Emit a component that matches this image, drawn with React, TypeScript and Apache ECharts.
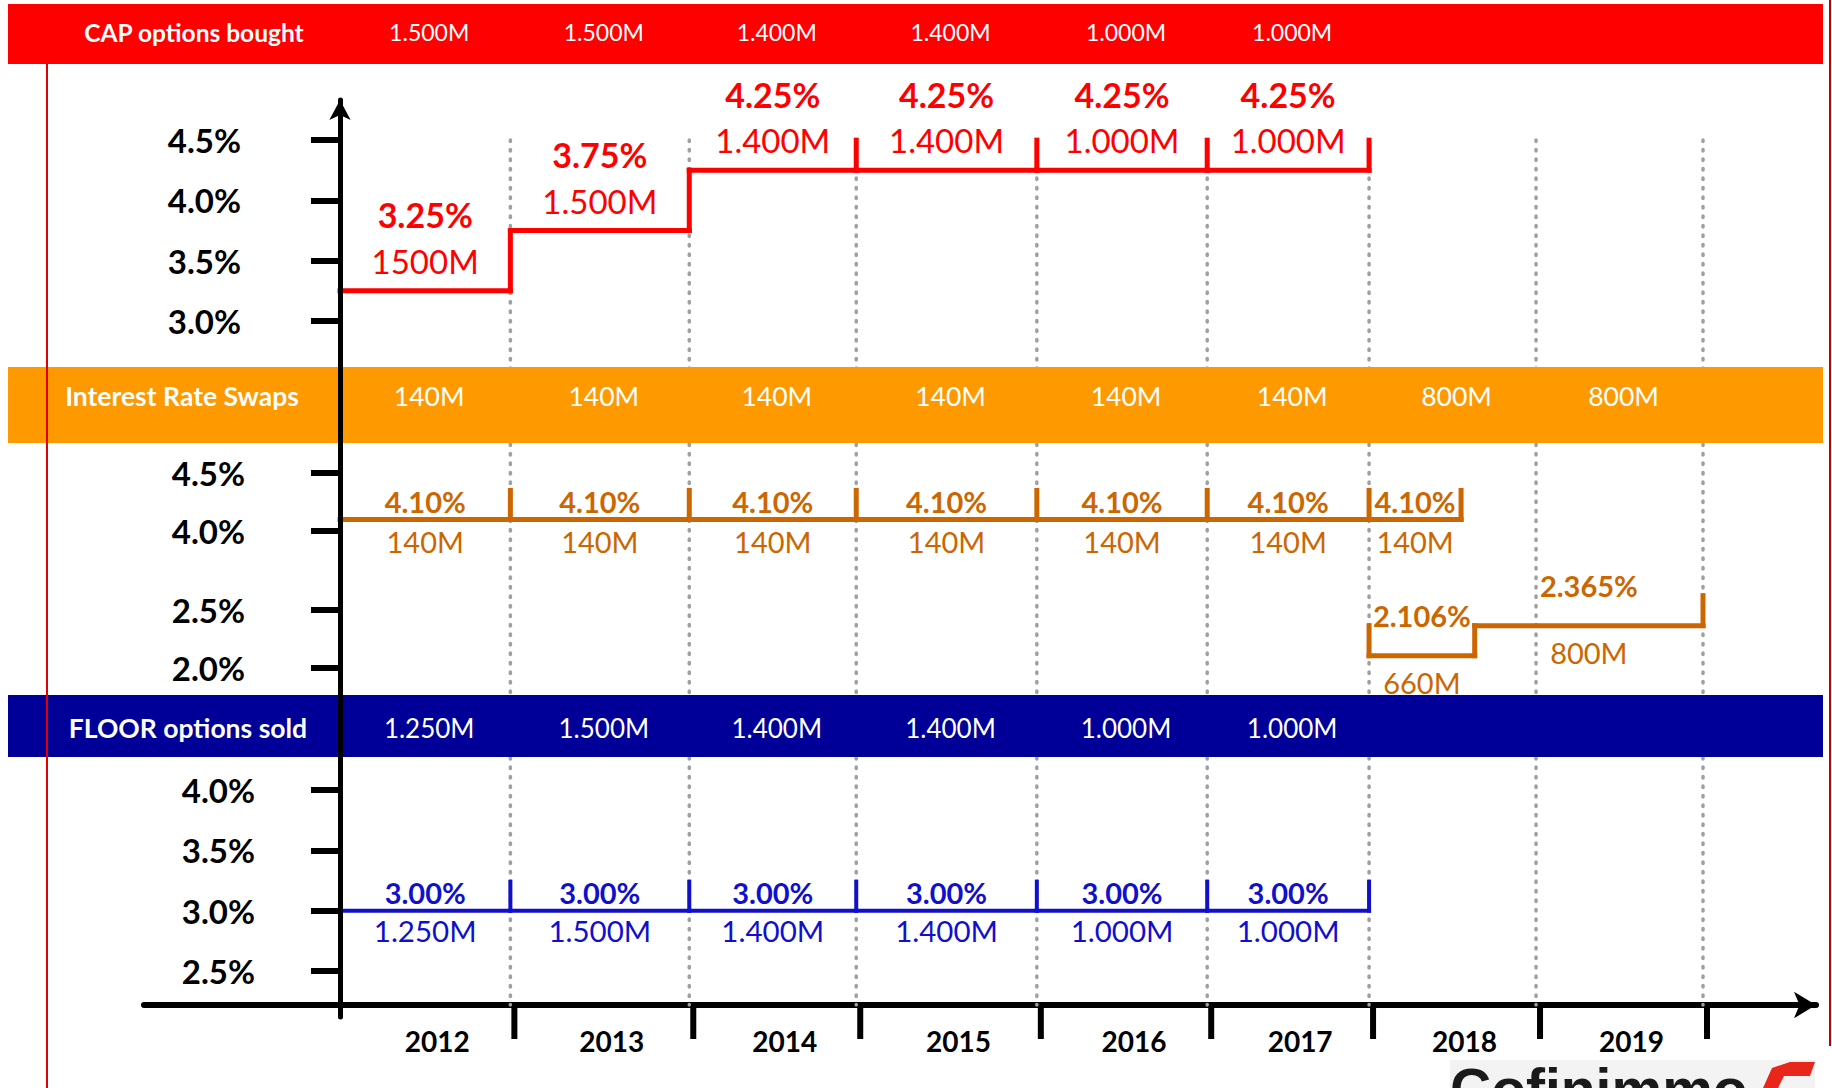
import React, { useEffect, useRef } from 'react';
import * as echarts from 'echarts';

// ---------- data ----------
const YEARS = ['2012', '2013', '2014', '2015', '2016', '2017', '2018', '2019'];
const PERIOD_BOUNDS = [2012, 2013, 2014.05, 2015.03, 2016.09, 2017.09, 2018.04, 2019.02, 2020];

const CAP_BANNER = ['1.500M', '1.500M', '1.400M', '1.400M', '1.000M', '1.000M'];
const CAP_RATES = [3.25, 3.75, 4.25, 4.25, 4.25, 4.25];
const CAP_AMOUNTS = ['1500M', '1.500M', '1.400M', '1.400M', '1.000M', '1.000M'];

const IRS_BANNER = ['140M', '140M', '140M', '140M', '140M', '140M', '800M', '800M'];
const IRS_RATES = [4.1, 4.1, 4.1, 4.1, 4.1, 4.1, 4.1];
const IRS_AMOUNTS = ['140M', '140M', '140M', '140M', '140M', '140M', '140M'];
const IRS_OLD_END = 2018.58;
const IRS_NEW_STARTS = [2018.04, 2018.66];
const IRS_NEW_ENDS = [2018.66, 2020];
const IRS_NEW_RATES = [2.106, 2.365];
const IRS_NEW_AMOUNTS = ['660M', '800M'];

const FLOOR_BANNER = ['1.250M', '1.500M', '1.400M', '1.400M', '1.000M', '1.000M'];
const FLOOR_RATES = [3.0, 3.0, 3.0, 3.0, 3.0, 3.0];
const FLOOR_AMOUNTS = ['1.250M', '1.500M', '1.400M', '1.400M', '1.000M', '1.000M'];

const X_MIN = 2012;
const X_MAX = 2020;

// ---------- styling ----------
const FONT = "Lato, 'Open Sans', 'Liberation Sans', sans-serif";
const RED = '#FF0000';
const ORANGE_BANNER = '#FF9900';
const ORANGE = '#CC6600';
const NAVY = '#000099';
const BLUE = '#1010CC';

type Period = { start: number; end: number; rate: number; amount: string };

const capPeriods: Period[] = CAP_RATES.map((r, i) => ({
  start: PERIOD_BOUNDS[i], end: PERIOD_BOUNDS[i + 1], rate: r, amount: CAP_AMOUNTS[i],
}));
const irsOldPeriods: Period[] = IRS_RATES.map((r, i) => ({
  start: PERIOD_BOUNDS[i],
  end: i === IRS_RATES.length - 1 ? IRS_OLD_END : PERIOD_BOUNDS[i + 1],
  rate: r, amount: IRS_AMOUNTS[i],
}));
const irsNewPeriods: Period[] = IRS_NEW_RATES.map((r, i) => ({
  start: IRS_NEW_STARTS[i], end: IRS_NEW_ENDS[i], rate: r, amount: IRS_NEW_AMOUNTS[i],
}));
const floorPeriods: Period[] = FLOOR_RATES.map((r, i) => ({
  start: PERIOD_BOUNDS[i], end: PERIOD_BOUNDS[i + 1], rate: r, amount: FLOOR_AMOUNTS[i],
}));

function fmtRate(v: number) {
  let s = v.toFixed(3);
  if (s.endsWith('0')) s = s.slice(0, -1);
  return s + '%';
}

type StepCfg = { lw: number; tickH: number; rateSize: number; amtSize: number; rateDy: number; amtDy: number };

function stepSeries(periods: Period[], axisIdx: number, color: string, cfg: StepCfg) {
  return {
    type: 'custom',
    xAxisIndex: axisIdx,
    yAxisIndex: axisIdx,
    z: 4,
    clip: false,
    silent: true,
    data: periods.map((p) => [p.start, p.end, p.rate]),
    encode: { x: [0, 1], y: 2 },
    renderItem: (params: any, api: any) => {
      const i = params.dataIndex;
      const p = periods[i];
      const nx = periods[i + 1];
      const a = api.coord([p.start, p.rate]);
      const b = api.coord([p.end, p.rate]);
      const st = { stroke: color, lineWidth: cfg.lw, lineCap: 'square' };
      const kids: any[] = [
        { type: 'line', shape: { x1: a[0], y1: a[1], x2: b[0], y2: b[1] }, style: st },
      ];
      if (nx && nx.start === p.end && nx.rate !== p.rate) {
        const c = api.coord([p.end, nx.rate]);
        kids.push({ type: 'line', shape: { x1: b[0], y1: b[1], x2: c[0], y2: c[1] }, style: st });
      } else {
        kids.push({ type: 'line', shape: { x1: b[0], y1: b[1], x2: b[0], y2: b[1] - cfg.tickH }, style: st });
      }
      if (i === 0 && p.start > X_MIN) {
        kids.push({ type: 'line', shape: { x1: a[0], y1: a[1], x2: a[0], y2: a[1] - cfg.tickH }, style: st });
      }
      const mx = (a[0] + b[0]) / 2;
      kids.push({
        type: 'text', x: mx, y: a[1] + cfg.rateDy,
        style: {
          text: fmtRate(p.rate), fill: color, fontSize: cfg.rateSize, fontWeight: 'bold', fontFamily: FONT,
          align: 'center', verticalAlign: 'middle',
        },
      });
      kids.push({
        type: 'text', x: mx, y: a[1] + cfg.amtDy,
        style: {
          text: p.amount, fill: color, fontSize: cfg.amtSize, fontFamily: FONT,
          align: 'center', verticalAlign: 'middle',
        },
      });
      return { type: 'group', children: kids };
    },
  };
}

function bannerSeries(values: string[], y: number, size: number) {
  return {
    type: 'custom',
    xAxisIndex: 3,
    yAxisIndex: 3,
    z: 6,
    clip: false,
    silent: true,
    data: values.map((_, i) => [PERIOD_BOUNDS[i], PERIOD_BOUNDS[i + 1], 0]),
    encode: { x: [0, 1], y: 2 },
    renderItem: (params: any, api: any) => {
      const i = params.dataIndex;
      const x0 = api.coord([PERIOD_BOUNDS[i], 0])[0];
      const x1 = api.coord([PERIOD_BOUNDS[i + 1], 0])[0];
      return {
        type: 'text', x: (x0 + x1) / 2 + 4, y,
        style: {
          text: values[i], fill: '#FFFFFF', fontSize: size, fontFamily: FONT,
          align: 'center', verticalAlign: 'middle',
        },
      };
    },
  };
}

function yAxisFor(grid: number, min: number, max: number, margin: number, extra: any = {}) {
  return {
    gridIndex: grid,
    type: 'value',
    min,
    max,
    interval: 0.5,
    axisLine: { show: false, onZero: false },
    axisTick: { show: true, length: 29, lineStyle: { color: '#000', width: 6 } },
    splitLine: { show: false },
    axisLabel: {
      margin,
      color: '#000',
      fontSize: 33,
      fontWeight: 'bold',
      fontFamily: FONT,
      formatter: (v: number) => v.toFixed(1) + '%',
    },
    ...extra,
  };
}

function hiddenX(grid: number, min = X_MIN, max = X_MAX) {
  return { gridIndex: grid, type: 'value', min, max, show: false };
}

function titleText(text: string, x: number, y: number, size: number) {
  return {
    type: 'text', z: 7, x, y,
    style: {
      text, fill: '#fff', fontSize: size, fontWeight: 'bold', fontFamily: FONT,
      align: 'center', verticalAlign: 'middle', textAlign: 'center', textVerticalAlign: 'middle',
    },
  };
}

function buildOption(): any {
  const plotLR = { left: 340, right: 129 };
  return {
    animation: false,
    backgroundColor: '#FFFFFF',
    grid: [
      { ...plotLR, top: 140, height: 181 }, // CAP
      { ...plotLR, top: 473, height: 195 }, // IRS
      { ...plotLR, top: 790, height: 181 }, // FLOOR
      { ...plotLR, top: 100, bottom: 71 }, // frame
      { left: 144, right: 16, top: 900, bottom: 83 }, // time axis
    ],
    xAxis: [
      hiddenX(0), hiddenX(1), hiddenX(2), hiddenX(3),
      {
        gridIndex: 4, type: 'value', min: 0, max: 1,
        axisLine: {
          show: true, onZero: false, symbol: ['none', 'arrow'], symbolSize: [20, 22],
          lineStyle: { color: '#000', width: 6 },
        },
        axisTick: { show: false }, axisLabel: { show: false }, splitLine: { show: false },
      },
    ],
    yAxis: [
      yAxisFor(0, 3.0, 4.5, 99),
      yAxisFor(1, 2.0, 4.5, 95, {
        breaks: [{ start: 2.5, end: 4.0, gap: '40.5%' }],
        breakArea: { show: false, itemStyle: { opacity: 0 } },
      }),
      yAxisFor(2, 2.5, 4.0, 85),
      {
        gridIndex: 3, type: 'value', min: 0, max: 1, z: 10,
        axisLine: {
          show: true, onZero: false, symbol: ['none', 'arrow'], symbolSize: [16, 20],
          lineStyle: { color: '#000', width: 5 },
        },
        axisTick: { show: false }, axisLabel: { show: false }, splitLine: { show: false },
      },
      { gridIndex: 4, type: 'value', min: 0, max: 1, show: false },
    ],
    graphic: [
      { type: 'rect', z: 2, shape: { x: 8, y: 4, width: 1815, height: 60 }, style: { fill: RED } },
      { type: 'rect', z: 2, shape: { x: 8, y: 367, width: 1815, height: 76 }, style: { fill: ORANGE_BANNER } },
      { type: 'rect', z: 2, shape: { x: 8, y: 695, width: 1815, height: 62 }, style: { fill: NAVY } },
      { type: 'line', z: 2, shape: { x1: 47, y1: 64, x2: 47, y2: 1088 }, style: { stroke: '#E00000', lineWidth: 2 } },
      { type: 'line', z: 2, shape: { x1: 1830, y1: 0, x2: 1830, y2: 1046 }, style: { stroke: '#C00000', lineWidth: 2 } },
      titleText('CAP options bought', 194, 32, 24.5),
      titleText('Interest Rate Swaps', 182, 396, 26.5),
      titleText('FLOOR options sold', 188, 728, 26.5),
      { type: 'rect', z: 2, shape: { x: 1450, y: 1060, width: 365, height: 28 }, style: { fill: '#F3F3F3' } },
      {
        type: 'text', z: 3, x: 1450, y: 1060,
        style: { text: 'Cofinimmo', fill: '#1A1A1A', fontSize: 57, fontWeight: 'bold', fontFamily: "'Liberation Sans', Arial, sans-serif", align: 'left', verticalAlign: 'top', textAlign: 'left', textVerticalAlign: 'top' },
      },
      {
        type: 'polygon', z: 3,
        shape: { points: [[1790, 1062], [1815, 1062], [1810, 1076], [1784, 1076], [1778, 1088], [1763, 1088], [1772, 1068]] },
        style: { fill: '#E8261C' },
      },
    ],
    series: [
      // dotted period separators
      {
        type: 'custom', xAxisIndex: 3, yAxisIndex: 3, z: 1, clip: false, silent: true,
        data: PERIOD_BOUNDS.slice(1).map((b) => [b, 0]),
        encode: { x: 0, y: 1 },
        renderItem: (params: any, api: any) => {
          const x = api.coord([PERIOD_BOUNDS[params.dataIndex + 1], 0])[0];
          return {
            type: 'line', shape: { x1: x, y1: 140, x2: x, y2: 1005 },
            style: { stroke: '#A0A0A0', lineWidth: 3.5, lineDash: [1.5, 8], lineCap: 'round' },
          };
        },
      },
      // year ticks and labels on the time axis
      {
        type: 'custom', xAxisIndex: 3, yAxisIndex: 3, z: 5, clip: false, silent: true,
        data: YEARS.map((_, i) => [PERIOD_BOUNDS[i], PERIOD_BOUNDS[i + 1], 0]),
        encode: { x: [0, 1], y: 2 },
        renderItem: (params: any, api: any) => {
          const i = params.dataIndex;
          const x0 = api.coord([PERIOD_BOUNDS[i], 0])[0];
          const x1 = api.coord([PERIOD_BOUNDS[i + 1], 0])[0];
          return {
            type: 'group',
            children: [
              { type: 'line', shape: { x1: x1 + 4, y1: 1006, x2: x1 + 4, y2: 1039 }, style: { stroke: '#000', lineWidth: 6 } },
              {
                type: 'text', x: (x0 + x1) / 2 + 12, y: 1041,
                style: { text: YEARS[i], fill: '#000', fontSize: 28, fontWeight: 'bold', fontFamily: FONT, align: 'center', verticalAlign: 'middle' },
              },
            ],
          };
        },
      },
      bannerSeries(CAP_BANNER, 32, 23),
      bannerSeries(IRS_BANNER, 396, 26.5),
      bannerSeries(FLOOR_BANNER, 728, 26),
      stepSeries(capPeriods, 0, RED, { lw: 5, tickH: 30, rateSize: 34, amtSize: 33, rateDy: -76, amtDy: -30 }),
      stepSeries(irsOldPeriods, 1, ORANGE, { lw: 5, tickH: 29, rateSize: 29, amtSize: 29, rateDy: -18, amtDy: 22 }),
      stepSeries(irsNewPeriods, 1, ORANGE, { lw: 5, tickH: 30, rateSize: 29, amtSize: 29, rateDy: -40, amtDy: 27 }),
      stepSeries(floorPeriods, 2, BLUE, { lw: 4, tickH: 29, rateSize: 29, amtSize: 29.5, rateDy: -18, amtDy: 20 }),
    ],
  };
}

export default function App() {
  const ref = useRef<HTMLDivElement>(null);
  useEffect(() => {
    if (!ref.current) return;
    const chart = echarts.init(ref.current, null, { renderer: 'svg' });
    chart.setOption(buildOption());
    return () => chart.dispose();
  }, []);
  return (
    <div
      ref={ref}
      style={{ position: 'absolute', left: 0, top: 0, width: 1832, height: 1088, background: '#fff' }}
    />
  );
}
